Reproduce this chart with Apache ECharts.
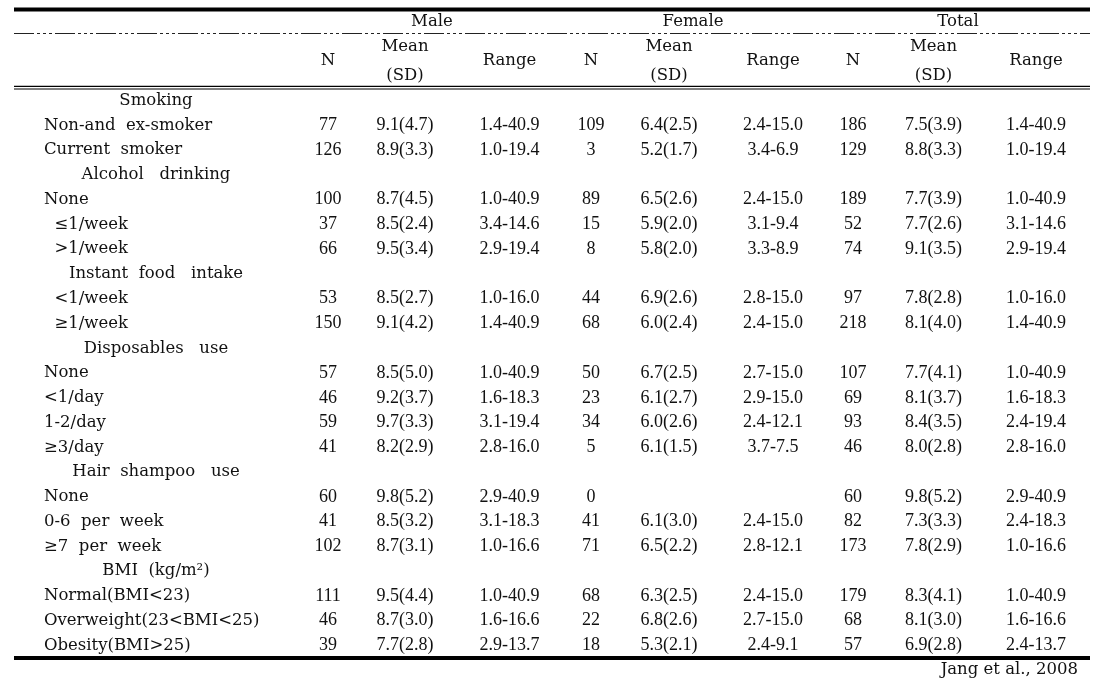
<!DOCTYPE html>
<html>
<head>
<meta charset="utf-8">
<script src="https://cdn.jsdelivr.net/npm/echarts@6/dist/echarts.min.js"></script>
<style>
  html, body { margin: 0; padding: 0; background: #fff; }
  #chart { width: 1104px; height: 697px; }
</style>
</head>
<body>
<div id="chart"></div>
<script>
// ---------------- DATA ----------------
const rowLabels = [
  'Smoking', 'Non-and  ex-smoker', 'Current  smoker',
  'Alcohol   drinking', 'None', '  \u22641/week', '  >1/week',
  'Instant  food   intake', '  <1/week', '  \u22651/week',
  'Disposables   use', 'None', '<1/day', '1-2/day', '\u22653/day',
  'Hair  shampoo   use', 'None', '0-6  per  week', '\u22657  per  week',
  'BMI  (kg/m\u00b2)', 'Normal(BMI<23)', 'Overweight(23<BMI<25)', 'Obesity(BMI>25)'
];
const groupNames = ['Male', 'Female', 'Total'];
const subHeaders = ['N', 'Mean\n(SD)', 'Range'];
const sourceNote = 'Jang et al., 2008';

const maleN     = [null,77,126,null,100,37,66,null,53,150,null,57,46,59,41,null,60,41,102,null,111,46,39];
const maleMean  = [null,9.1,8.9,null,8.7,8.5,9.5,null,8.5,9.1,null,8.5,9.2,9.7,8.2,null,9.8,8.5,8.7,null,9.5,8.7,7.7];
const maleSD    = [null,4.7,3.3,null,4.5,2.4,3.4,null,2.7,4.2,null,5.0,3.7,3.3,2.9,null,5.2,3.2,3.1,null,4.4,3.0,2.8];
const maleRange = [null,'1.4-40.9','1.0-19.4',null,'1.0-40.9','3.4-14.6','2.9-19.4',null,'1.0-16.0','1.4-40.9',null,
                   '1.0-40.9','1.6-18.3','3.1-19.4','2.8-16.0',null,'2.9-40.9','3.1-18.3','1.0-16.6',null,'1.0-40.9','1.6-16.6','2.9-13.7'];

const femaleN     = [null,109,3,null,89,15,8,null,44,68,null,50,23,34,5,null,0,41,71,null,68,22,18];
const femaleMean  = [null,6.4,5.2,null,6.5,5.9,5.8,null,6.9,6.0,null,6.7,6.1,6.0,6.1,null,null,6.1,6.5,null,6.3,6.8,5.3];
const femaleSD    = [null,2.5,1.7,null,2.6,2.0,2.0,null,2.6,2.4,null,2.5,2.7,2.6,1.5,null,null,3.0,2.2,null,2.5,2.6,2.1];
const femaleRange = [null,'2.4-15.0','3.4-6.9',null,'2.4-15.0','3.1-9.4','3.3-8.9',null,'2.8-15.0','2.4-15.0',null,
                     '2.7-15.0','2.9-15.0','2.4-12.1','3.7-7.5',null,null,'2.4-15.0','2.8-12.1',null,'2.4-15.0','2.7-15.0','2.4-9.1'];

const totalN     = [null,186,129,null,189,52,74,null,97,218,null,107,69,93,46,null,60,82,173,null,179,68,57];
const totalMean  = [null,7.5,8.8,null,7.7,7.7,9.1,null,7.8,8.1,null,7.7,8.1,8.4,8.0,null,9.8,7.3,7.8,null,8.3,8.1,6.9];
const totalSD    = [null,3.9,3.3,null,3.9,2.6,3.5,null,2.8,4.0,null,4.1,3.7,3.5,2.8,null,5.2,3.3,2.9,null,4.1,3.0,2.8];
const totalRange = [null,'1.4-40.9','1.0-19.4',null,'1.0-40.9','3.1-14.6','2.9-19.4',null,'1.0-16.0','1.4-40.9',null,
                    '1.0-40.9','1.6-18.3','2.4-19.4','2.8-16.0',null,'2.9-40.9','2.4-18.3','1.0-16.6',null,'1.0-40.9','1.6-16.6','2.4-13.7'];

// ---------------- LAYOUT / STYLE ----------------
const LAYOUT = {
  left: 14, right: 1090,                 // table extent (axis units = px across the table)
  labelX: 44, groupLabelX: 156,          // label column anchors
  colX: [328, 405, 509.5, 591, 669, 773, 853, 933.5, 1036],
  groupX: [432, 693, 958],
  headTop: 1.75, headHeight: 79,
  bodyTop: 88.1, bodyHeight: 569.8
};
const TEXT_FONT = 'DejaVu Serif';
const NUM_FONT = 'Liberation Serif';
const INK = '#111';

// ---------------- BUILD ----------------
const fmtMean = (m, s) => (m == null ? '' : m.toFixed(1) + '(' + s.toFixed(1) + ')');
const fmtN = v => (v == null ? '' : String(v));
const isGroup = maleN.map(v => v == null);

const columns = [
  maleN.map(fmtN), maleMean.map((m, i) => fmtMean(m, maleSD[i])), maleRange.map(v => v || ''),
  femaleN.map(fmtN), femaleMean.map((m, i) => fmtMean(m, femaleSD[i])), femaleRange.map(v => v || ''),
  totalN.map(fmtN), totalMean.map((m, i) => fmtMean(m, totalSD[i])), totalRange.map(v => v || '')
];

function textSeries(gridIdx, items, family, size, align) {
  return {
    type: 'custom',
    coordinateSystem: 'cartesian2d',
    xAxisIndex: gridIdx, yAxisIndex: gridIdx,
    silent: true,
    data: items.map(it => [it.x, it.y]),
    renderItem: function (params, api) {
      const p = api.coord([api.value(0), api.value(1)]);
      const it = items[params.dataIndex];
      return {
        type: 'text', x: p[0], y: p[1],
        style: {
          text: it.text, fontFamily: family, fontSize: size, fill: INK,
          align: align, verticalAlign: 'middle', lineHeight: it.lineHeight || size
        }
      };
    }
  };
}

const labelItems = [], groupItems = [], cellItems = [];
rowLabels.forEach((t, r) => {
  if (isGroup[r]) groupItems.push({ x: LAYOUT.groupLabelX, y: r, text: t });
  else labelItems.push({ x: LAYOUT.labelX, y: r, text: t });
});
columns.forEach((col, c) => {
  col.forEach((t, r) => { if (t !== '') cellItems.push({ x: LAYOUT.colX[c], y: r, text: t }); });
});
const headGroupItems = groupNames.map((g, i) => ({ x: LAYOUT.groupX[i], y: 0, text: g }));
const headSubItems = [];
LAYOUT.colX.forEach((x, c) => headSubItems.push({ x: x, y: 1, text: subHeaders[c % 3], lineHeight: 29 }));

const hidden = { show: false };
const option = {
  backgroundColor: '#fff',
  animation: false,
  title: {
    text: sourceNote, right: 1104 - 1078, top: 661, padding: 0,
    textStyle: { fontFamily: TEXT_FONT, fontSize: 16.5, fontWeight: 'normal', color: INK, lineHeight: 18 }
  },
  grid: [
    { left: LAYOUT.left, width: LAYOUT.right - LAYOUT.left, top: LAYOUT.headTop, height: LAYOUT.headHeight, containLabel: false },
    { left: LAYOUT.left, width: LAYOUT.right - LAYOUT.left, top: LAYOUT.bodyTop, height: LAYOUT.bodyHeight, containLabel: false }
  ],
  xAxis: [
    { type: 'value', gridIndex: 0, min: LAYOUT.left, max: LAYOUT.right, show: false },
    { type: 'value', gridIndex: 1, min: LAYOUT.left, max: LAYOUT.right, show: false }
  ],
  yAxis: [
    { type: 'category', gridIndex: 0, data: ['group', 'sub'], inverse: true, show: false },
    { type: 'category', gridIndex: 1, data: rowLabels, inverse: true, show: false }
  ],
  graphic: [
    { type: 'line', silent: true, shape: { x1: LAYOUT.left, y1: 9.5, x2: LAYOUT.right, y2: 9.5 }, style: { stroke: '#000', lineWidth: 4 } },
    { type: 'line', silent: true, shape: { x1: LAYOUT.left, y1: 33.5, x2: LAYOUT.right, y2: 33.5 }, style: { stroke: '#222', lineWidth: 1, lineDash: [20, 3, 3, 3, 3, 3, 3, 3] } },
    { type: 'line', silent: true, shape: { x1: LAYOUT.left, y1: 86.3, x2: LAYOUT.right, y2: 86.3 }, style: { stroke: '#000', lineWidth: 1.3 } },
    { type: 'line', silent: true, shape: { x1: LAYOUT.left, y1: 89, x2: LAYOUT.right, y2: 89 }, style: { stroke: '#000', lineWidth: 1 } },
    { type: 'line', silent: true, shape: { x1: LAYOUT.left, y1: 658, x2: LAYOUT.right, y2: 658 }, style: { stroke: '#000', lineWidth: 4 } }
  ],
  series: [
    textSeries(0, headGroupItems, TEXT_FONT, 16.5, 'center'),
    textSeries(0, headSubItems, TEXT_FONT, 16.5, 'center'),
    textSeries(1, groupItems, TEXT_FONT, 16.5, 'center'),
    textSeries(1, labelItems, TEXT_FONT, 16.5, 'left'),
    textSeries(1, cellItems, NUM_FONT, 18, 'center')
  ]
};

const chart = echarts.init(document.getElementById('chart'), null, { renderer: 'canvas' });
chart.setOption(option);
</script>
</body>
</html>
